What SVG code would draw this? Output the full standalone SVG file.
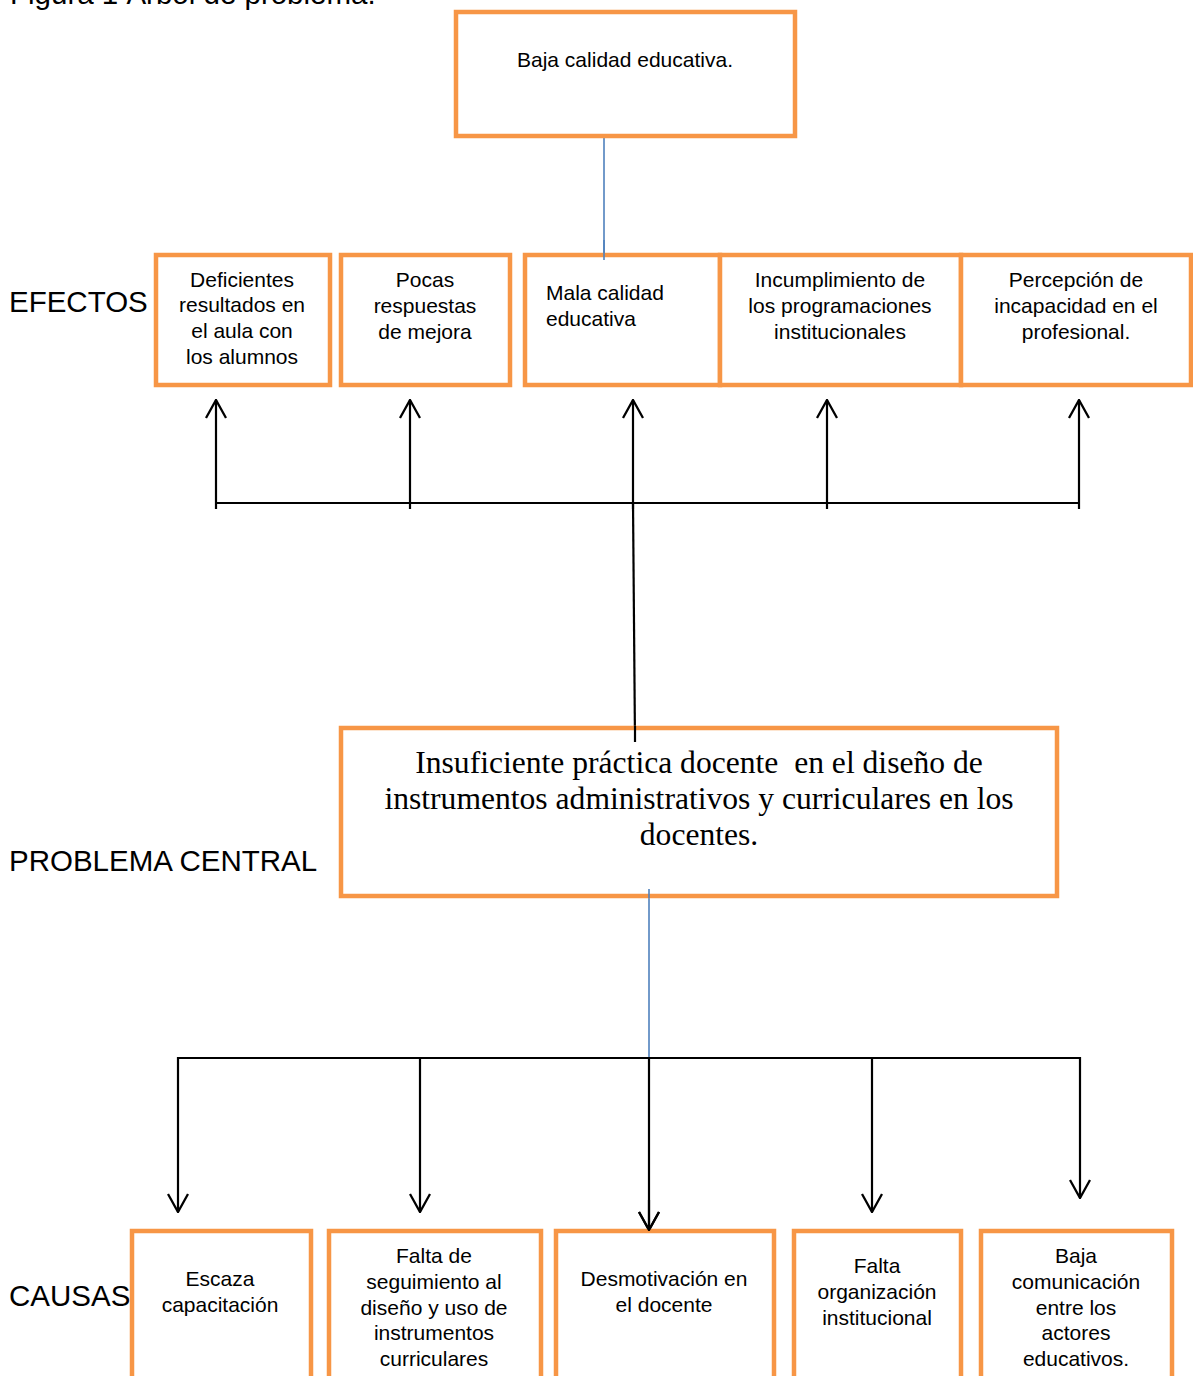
<svg xmlns="http://www.w3.org/2000/svg" width="1193" height="1376" viewBox="0 0 1193 1376">
<style>
.box{fill:#fff;stroke:#F79646;stroke-width:4.5}
.t{font-family:"Liberation Sans",Arial,sans-serif;font-size:21px;fill:#000;text-anchor:middle}
.lbl{font-family:"Liberation Sans",Arial,sans-serif;font-size:29.5px;fill:#000}
.serif{font-family:"Liberation Serif","Times New Roman",serif;font-size:31.6px;fill:#000;text-anchor:middle;white-space:pre}
.ln{stroke:#000;stroke-width:2.2;fill:none}
.blue{stroke:#4F81BD;stroke-width:1.6;fill:none}
.arr{stroke:#000;stroke-width:2.2;fill:none;marker-end:url(#v)}
</style>
<defs>
<marker id="v" viewBox="0 0 20 22" refX="19" refY="11" markerWidth="20" markerHeight="22" orient="auto" markerUnits="userSpaceOnUse">
<path d="M1,1 L19,11 L1,21" fill="none" stroke="#000" stroke-width="2.3"/>
</marker>
</defs>
<rect width="1193" height="1376" fill="#fff"/>
<text class="lbl" x="10" y="4">Figura 1 Árbol de problema.</text>
<text class="lbl" x="9" y="312">EFECTOS</text>
<text class="lbl" x="9" y="871">PROBLEMA CENTRAL</text>
<text class="lbl" x="9" y="1306">CAUSAS</text>

<g id="connectors">
<line class="blue" x1="604" y1="134" x2="604" y2="262"/>
<line class="ln" x1="216" y1="503" x2="1080" y2="503"/>
<line class="arr" x1="216" y1="509" x2="216" y2="400"/>
<line class="arr" x1="410" y1="509" x2="410" y2="400"/>
<line class="arr" x1="633" y1="509" x2="633" y2="400"/>
<line class="arr" x1="827" y1="509" x2="827" y2="400"/>
<line class="arr" x1="1079" y1="509" x2="1079" y2="400"/>
<line class="ln" x1="633" y1="503" x2="635" y2="742"/>
<line class="blue" x1="649" y1="890" x2="649" y2="1058"/>
<line class="ln" x1="178" y1="1058" x2="1081" y2="1058"/>
<line class="arr" x1="178" y1="1057" x2="178" y2="1212"/>
<line class="arr" x1="420" y1="1057" x2="420" y2="1212"/>
<line class="arr" x1="649" y1="1057" x2="649" y2="1230"/>
<line class="arr" x1="872" y1="1057" x2="872" y2="1212"/>
<line class="arr" x1="1080" y1="1057" x2="1080" y2="1198"/>
</g>

<g id="top">
<rect class="box" x="456" y="12" width="339" height="124"/>
<text class="t" x="625" y="67">Baja calidad educativa.</text>
</g>

<g id="e1">
<rect class="box" x="156" y="255" width="174" height="130"/>
<text class="t" x="242" y="287">Deficientes</text>
<text class="t" x="242" y="312">resultados en</text>
<text class="t" x="242" y="338">el aula con</text>
<text class="t" x="242" y="364">los alumnos</text>
</g>
<g id="e2">
<rect class="box" x="341" y="255" width="169" height="130"/>
<text class="t" x="425" y="287">Pocas</text>
<text class="t" x="425" y="313">respuestas</text>
<text class="t" x="425" y="339">de mejora</text>
</g>
<g id="e3">
<rect class="box" x="525" y="255" width="195" height="130"/>
<text class="t" x="546" y="300" style="text-anchor:start">Mala calidad</text>
<text class="t" x="546" y="326" style="text-anchor:start">educativa</text>
</g>
<g id="e4">
<rect class="box" x="720" y="255" width="241" height="130"/>
<text class="t" x="840" y="287">Incumplimiento de</text>
<text class="t" x="840" y="313">los programaciones</text>
<text class="t" x="840" y="339">institucionales</text>
</g>
<g id="e5">
<rect class="box" x="961" y="255" width="230" height="130"/>
<text class="t" x="1076" y="287">Percepción de</text>
<text class="t" x="1076" y="313">incapacidad en el</text>
<text class="t" x="1076" y="339">profesional.</text>
</g>
<line class="blue" x1="604" y1="240" x2="604" y2="260"/>

<g id="central">
<rect class="box" x="341" y="728" width="716" height="168"/>
<line class="ln" x1="635" y1="726" x2="635" y2="742"/>
<text class="serif" x="699" y="773" xml:space="preserve">Insuficiente práctica docente  en el diseño de</text>
<text class="serif" x="699" y="809">instrumentos administrativos y curriculares en los</text>
<text class="serif" x="699" y="845">docentes.</text>
<line class="blue" x1="649" y1="889" x2="649" y2="898"/>
</g>

<g id="c1">
<rect class="box" x="132" y="1231" width="179" height="170"/>
<text class="t" x="220" y="1286">Escaza</text>
<text class="t" x="220" y="1312">capacitación</text>
</g>
<g id="c2">
<rect class="box" x="329" y="1231" width="212" height="170"/>
<text class="t" x="434" y="1263">Falta de</text>
<text class="t" x="434" y="1289">seguimiento al</text>
<text class="t" x="434" y="1315">diseño y uso de</text>
<text class="t" x="434" y="1340">instrumentos</text>
<text class="t" x="434" y="1366">curriculares</text>
</g>
<g id="c3">
<rect class="box" x="556" y="1231" width="218" height="170"/>
<text class="t" x="664" y="1286">Desmotivación en</text>
<text class="t" x="664" y="1312">el docente</text>
</g>
<g id="c4">
<rect class="box" x="794" y="1231" width="167" height="170"/>
<text class="t" x="877" y="1273">Falta</text>
<text class="t" x="877" y="1299">organización</text>
<text class="t" x="877" y="1325">institucional</text>
</g>
<g id="c5">
<rect class="box" x="981" y="1231" width="191" height="170"/>
<text class="t" x="1076" y="1263">Baja</text>
<text class="t" x="1076" y="1289">comunicación</text>
<text class="t" x="1076" y="1315">entre los</text>
<text class="t" x="1076" y="1340">actores</text>
<text class="t" x="1076" y="1366">educativos.</text>
</g>
<line class="arr" x1="649" y1="1200" x2="649" y2="1230"/>
</svg>
